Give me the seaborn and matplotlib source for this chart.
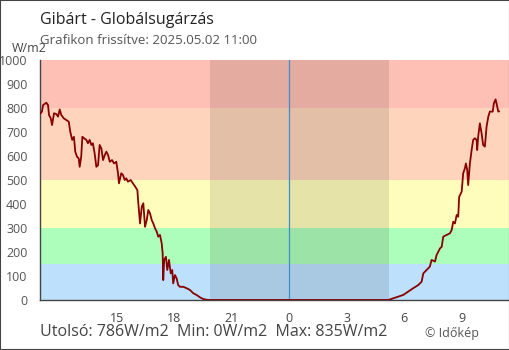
import matplotlib
matplotlib.use("Agg")
import matplotlib.pyplot as plt
import seaborn as sns
import pandas as pd
from matplotlib.patches import Rectangle

# hours after 2025.05.01 11:00
hours = [0.04, 0.10, 0.16, 0.33, 0.42, 0.47, 0.56, 0.63, 0.73, 0.85, 0.94, 1.03, 1.11, 1.24,
         1.37, 1.50, 1.58, 1.68, 1.77, 1.84, 1.93, 2.02, 2.07, 2.15, 2.21, 2.30, 2.42, 2.50,
         2.59, 2.68, 2.76, 2.85, 2.94, 3.03, 3.11, 3.20, 3.29, 3.38, 3.46, 3.55, 3.64, 3.76,
         3.86, 3.98, 4.07, 4.12, 4.24, 4.33, 4.42, 4.50, 4.59, 4.73, 4.85, 4.97, 5.08, 5.13,
         5.22, 5.31, 5.39, 5.48, 5.57, 5.65, 5.74, 5.83, 5.91, 6.00, 6.09, 6.17, 6.26, 6.35,
         6.40, 6.43, 6.48, 6.57, 6.64, 6.73, 6.82, 6.90, 6.95, 7.04, 7.13, 7.21, 7.30, 7.48,
         7.65, 7.82, 8.00, 8.17, 8.35, 8.52, 8.70, 8.87, 12.0, 15.0, 18.17,
         18.43, 18.69, 18.95, 19.21, 19.47, 19.73, 19.91, 20.00, 20.17, 20.34, 20.43, 20.61,
         20.69, 20.87, 20.96, 21.04, 21.22, 21.39, 21.48, 21.56, 21.65, 21.74, 21.82, 21.87,
         22.00, 22.08, 22.17, 22.22, 22.29, 22.34, 22.43, 22.52, 22.60, 22.69, 22.78, 22.81,
         22.86, 22.95, 23.04, 23.12, 23.21, 23.30, 23.39, 23.47, 23.62, 23.68, 23.77, 23.82,
         23.91, 23.96]
radiation = [778, 785, 812, 822, 812, 771, 757, 729, 778, 775, 764, 794, 771, 757,
             750, 743, 701, 667, 680, 618, 597, 590, 555, 597, 680, 674, 667, 653,
             667, 646, 653, 611, 555, 562, 646, 632, 583, 604, 618, 604, 576, 583,
             569, 576, 528, 486, 528, 521, 500, 507, 493, 500, 486, 472, 458, 403,
             319, 389, 403, 305, 333, 375, 361, 333, 319, 299, 285, 264, 271, 236,
             194, 83, 167, 180, 125, 167, 111, 125, 69, 104, 90, 62, 55, 55,
             49, 42, 28, 21, 11, 4, 1, 0, 0, 0, 0,
             7, 14, 21, 35, 49, 62, 76, 111, 125, 139, 167, 160,
             187, 215, 222, 264, 271, 278, 292, 326, 319, 354, 347, 430,
             451, 528, 549, 569, 542, 479, 569, 625, 667, 674, 667, 625,
             680, 736, 694, 646, 639, 722, 764, 785, 785, 819, 836, 819,
             785, 786]

tick_pos = [4, 7, 10, 13, 16, 19, 22]
tick_labels = ["15", "18", "21", "0", "3", "6", "9"]
y_ticks = [0, 100, 200, 300, 400, 500, 600, 700, 800, 900, 1000]

band_edges = [0, 150, 300, 500, 800, 1000]
band_colors = ["#bde0fd", "#adfdbb", "#fffdbc", "#fed5bc", "#fec0b4"]
night_start, night_end = 8.85, 18.19
midnight = 13

df = pd.DataFrame({"h": hours, "v": radiation})

sns.set_style("white")
plt.rcParams["font.family"] = ["Open Sans", "DejaVu Sans"]

fig = plt.figure(figsize=(5.1, 3.5), dpi=100)
ax = fig.add_axes([40/510, 50/350, 469/510, 240/350])

for i, c in enumerate(band_colors):
    ax.axhspan(band_edges[i], band_edges[i+1], color=c, lw=0, zorder=0)
ax.axvspan(night_start, night_end, color="black", alpha=0.1, lw=0, zorder=1)
ax.axvline(midnight, color="#3a8fd0", lw=0.9, zorder=2)

sns.lineplot(data=df, x="h", y="v", ax=ax, color="#880000", lw=1.3, zorder=3)

ax.set_xlim(0, 24.47)
ax.set_ylim(0, 1000)
ax.set_xticks(tick_pos)
ax.set_xticklabels(tick_labels)
ax.set_yticks(y_ticks)
ax.set_xlabel("")
ax.set_ylabel("")
ax.tick_params(axis="x", direction="out", length=7, width=1, color="#444444",
               labelsize=9, labelcolor="#444444", pad=2)
ax.tick_params(axis="y", direction="out", length=7, width=1, color="#444444",
               labelsize=9, labelcolor="#555555", pad=2)
for s in ["top", "right"]:
    ax.spines[s].set_visible(False)
for s in ["left", "bottom"]:
    ax.spines[s].set_color("#444444")
    ax.spines[s].set_linewidth(1)

fig.text(40/510, 1 - 20/350, "Gibárt - Globálsugárzás", fontsize=11.5, color="#222222",
         ha="left", va="center")
fig.text(40/510, 1 - 41/350, "Grafikon frissítve: 2025.05.02 11:00", fontsize=9.5,
         color="#555555", ha="left", va="center")
fig.text(12/510, 1 - 49/350, "W/m2", fontsize=9, color="#444444", ha="left", va="center")
fig.text(40/510, 1 - 332/350, "Utolsó: 786W/m2  Min: 0W/m2  Max: 835W/m2", fontsize=11.5,
         color="#444444", ha="left", va="center")
fig.text(425/510, 1 - 333/350, "© Időkép", fontsize=9, color="#555555", ha="left", va="center")

fig.patches.append(Rectangle((0, 0), 1, 1, transform=fig.transFigure, fill=False,
                             edgecolor="#444444", lw=1.5))

fig.savefig("out.png", dpi=100)
